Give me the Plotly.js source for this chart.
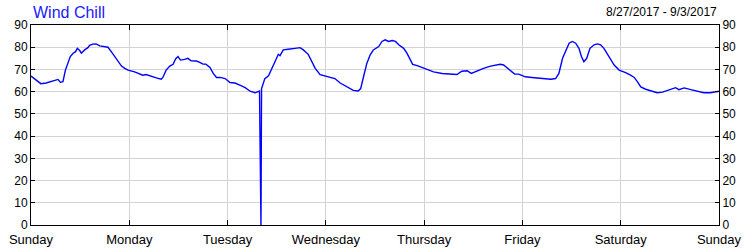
<!DOCTYPE html>
<html><head><meta charset="utf-8">
<script src="https://cdn.plot.ly/plotly-3.0.1.min.js"></script>
<style>html,body{margin:0;padding:0;background:#fff}#chart{width:750px;height:250px}</style>
</head><body><div id="chart"></div>
<script>
const dayLabels = ["Sunday","Monday","Tuesday","Wednesday","Thursday","Friday","Saturday","Sunday"];
const dayHours = [0,24,48,72,96,120,144,168];
const hours = [0,0.9,2.4,3.7,5.0,6.6,7.2,7.8,8.4,9.0,9.6,10.3,10.9,11.3,11.9,12.3,13.1,13.9,14.3,15.1,15.9,16.8,18.0,18.8,19.6,20.4,21.2,22.1,22.9,23.7,25.3,26.5,27.3,28.1,29.4,30.6,31.8,32.2,33.0,33.9,34.7,35.3,35.9,36.5,37.5,38.3,39.1,40.4,41.2,42.0,42.7,43.7,44.5,45.3,46.2,47.4,48.6,49.8,51.0,52.3,53.5,54.7,55.8,56.15,56.3,57.1,58.0,58.8,59.6,60.4,60.8,61.6,62.8,63.7,64.5,65.7,66.5,67.7,68.5,69.4,70.6,71.8,73.0,74.2,75.5,77.1,78.7,79.9,80.5,81.2,82.0,82.8,83.6,84.9,85.7,86.5,87.3,88.2,89.0,89.8,91.0,91.8,92.6,93.2,94.3,95.5,96.7,98.3,100.4,102.8,104.0,105.2,106.5,107.5,108.9,110.5,112.2,113.4,114.6,115.4,116.2,117.1,118.1,119.1,119.9,120.7,122.3,124.0,125.3,126.9,128.1,128.9,129.8,130.6,131.4,132.2,133.0,133.8,134.4,135.0,135.7,136.5,137.5,138.3,139.1,139.9,141.2,142.4,143.6,145.2,146.4,147.3,148.1,148.9,150.1,151.3,152.9,154.2,155.4,156.6,157.4,158.2,159.5,161.1,162.7,164.3,165.9,167.6,168];
const windChill = [67,65.6,63.6,63.9,64.5,65.5,64.2,64.5,69.7,72.7,75.8,77.3,78,79.5,78.5,77.3,78.8,79.8,80.8,81.4,81.5,80.6,80.3,80,78,75.8,73.5,71.5,70.5,69.7,68.9,68.2,67.4,67.7,67.1,66.2,65.6,66.4,69.7,71.5,72.3,74.7,75.8,74.2,74.5,75,73.9,73.8,73.2,72.4,72.4,70.9,68.2,66.4,66.4,65.9,64.1,63.9,62.9,61.8,60.2,59.5,60.3,0,61.4,65.9,67.1,70.5,73.8,76.8,76.2,78.8,79.1,79.2,79.5,79.8,78.8,76.8,73.5,70.5,67.7,67.1,66.7,65.9,63.9,62.1,60.6,60.3,61.4,66.7,72.7,76.5,78.8,80.3,82.6,83.3,82.6,83.0,82.6,81.1,79.5,77.3,74.2,72.3,71.7,70.8,70,68.9,68.2,67.9,67.7,69.2,69.4,68.2,69.4,70.5,71.5,72,72.3,72,70.8,69.2,67.9,67.9,67.4,66.7,66.4,66.2,65.9,65.6,65.9,68.2,75,78.8,81.8,82.6,81.8,79.5,75.8,73.5,75,79.5,81.1,81.5,81.1,79.5,75.8,72,69.7,68.6,67.4,66.4,64.4,62.1,61.1,60.3,59.5,59.8,60.6,61.4,61.8,60.9,61.7,60.9,60.3,59.5,59.5,59.8,60.2];
const titleText = "Wind Chill";
const rangeText = "8/27/2017 - 9/3/2017";
const yTicks = [0,10,20,30,40,50,60,70,80,90];

const fam = "Liberation Sans, Arial, sans-serif";
const xFont = {family: fam, size: 13, color: "#000"};
const yFont = {family: fam, size: 12, color: "#000"};
const traces = [
  {x: hours, y: windChill, type: "scatter", mode: "lines",
   line: {color: "#0000ff", width: 1.4}, hoverinfo: "skip", showlegend: false},
  {x: [hours[0]], y: [windChill[0]], type: "scatter", mode: "markers", yaxis: "y2",
   opacity: 0, hoverinfo: "skip", showlegend: false}
];
const yCommon = {range: [0, 90], tickvals: yTicks, ticks: "inside", ticklen: 4, tickcolor: "#000",
  showline: true, linecolor: "#000", linewidth: 1, gridcolor: "#d3d3d3", zeroline: false,
  tickfont: yFont, fixedrange: true};
const layout = {
  width: 750, height: 250,
  margin: {l: 31, r: 31, t: 25, b: 25, pad: 0},
  paper_bgcolor: "#fff", plot_bgcolor: "#fff",
  font: xFont,
  title: {text: titleText, font: {family: fam, size: 16, color: "#1a1aff"},
    x: 33/750, xanchor: "left", xref: "container", y: 1 - 12/250, yanchor: "middle", yref: "container"},
  xaxis: {range: [0, 168], tickvals: dayHours, ticktext: dayLabels, ticks: "inside", ticklen: 5,
    tickcolor: "#000", showline: true, linecolor: "#000", linewidth: 1, mirror: "ticks",
    gridcolor: "#d3d3d3", zeroline: false, tickfont: xFont, ticklabelstandoff: 2, fixedrange: true},
  yaxis: Object.assign({}, yCommon, {side: "left"}),
  yaxis2: Object.assign({}, yCommon, {side: "right", overlaying: "y", showgrid: false}),
  annotations: [{text: rangeText, xref: "paper", yref: "paper", x: 1, y: 1,
    xanchor: "right", yanchor: "bottom", yshift: 4, showarrow: false,
    font: {family: fam, size: 12, color: "#000"}}]
};
Plotly.newPlot("chart", traces, layout, {staticPlot: true, displayModeBar: false});
</script>
</body></html>
